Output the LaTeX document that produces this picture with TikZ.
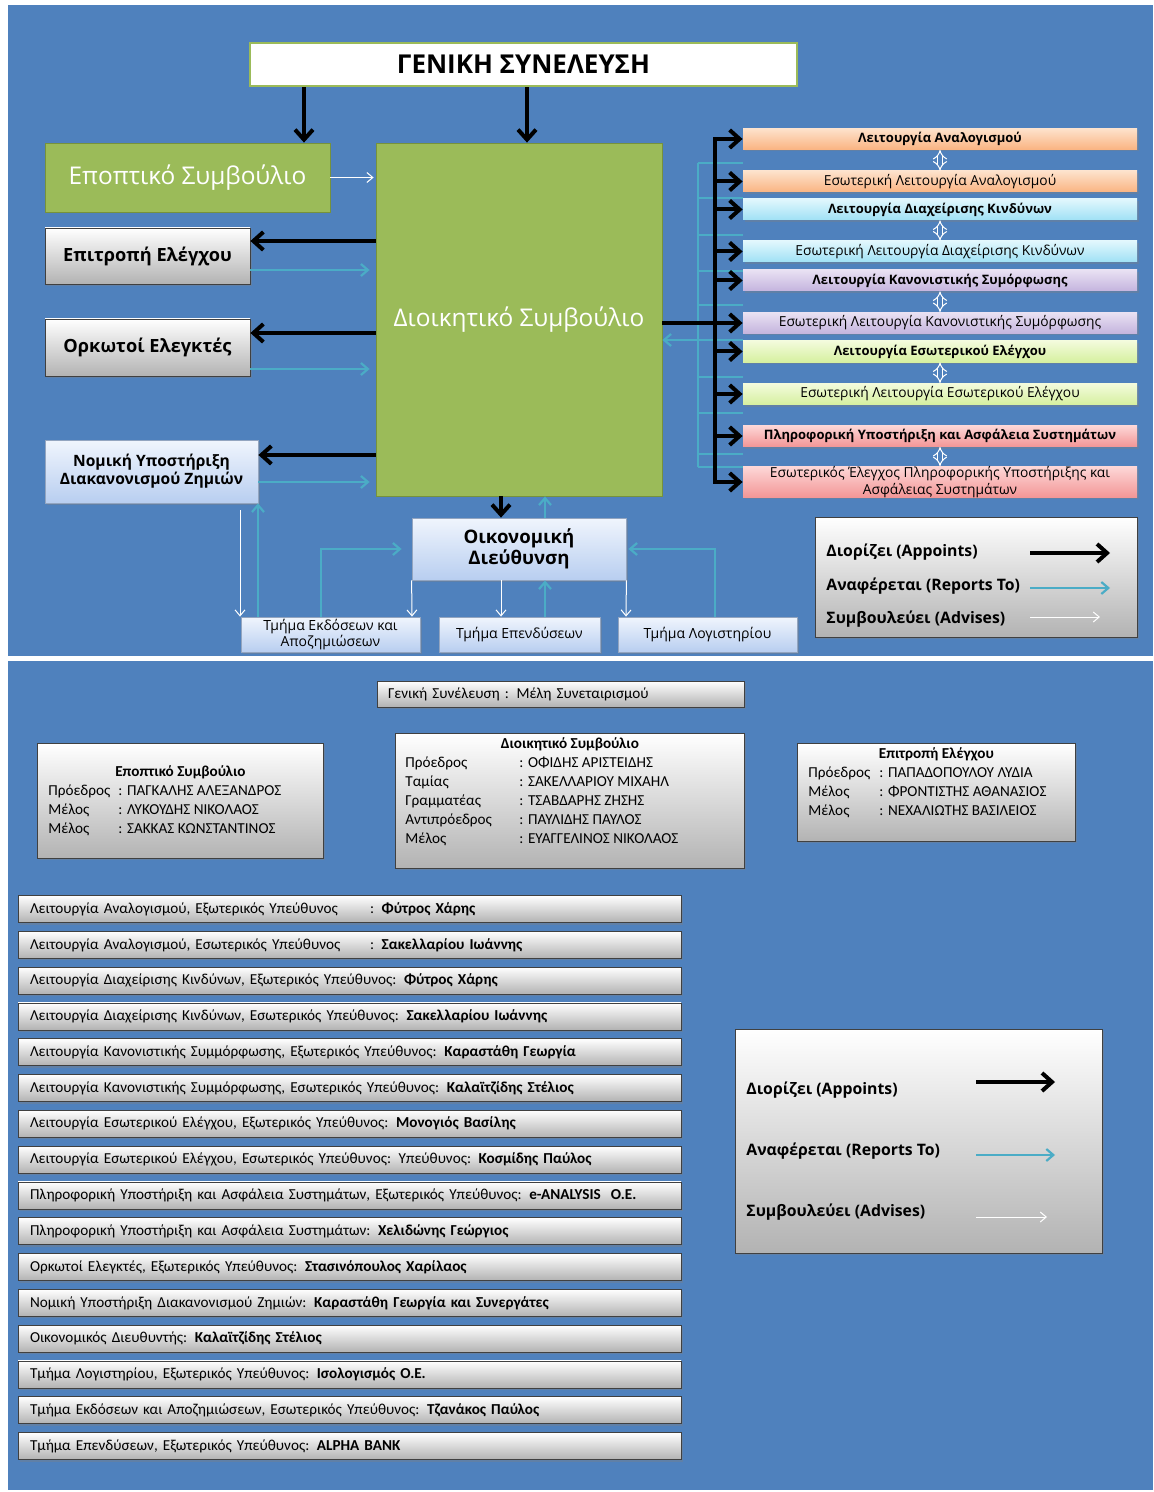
\documentclass[tikz,border=0pt]{standalone}
\usepackage{fontspec}
\setmainfont{Open Sans}
\newfontfamily\calib{Carlito}
\usetikzlibrary{arrows.meta,shadows}

\definecolor{panelblue}{RGB}{79,129,189}
\definecolor{boardgreen}{RGB}{155,187,89}
\definecolor{greenedge}{RGB}{118,146,60}
\definecolor{reportteal}{RGB}{75,172,198}
\definecolor{paleblueA}{RGB}{240,245,253}
\definecolor{paleblueB}{RGB}{184,206,240}
\definecolor{peachA}{RGB}{253,226,204}
\definecolor{peachB}{RGB}{250,180,130}
\definecolor{cyanA}{RGB}{225,247,253}
\definecolor{cyanB}{RGB}{160,225,245}
\definecolor{lilacA}{RGB}{233,225,243}
\definecolor{lilacB}{RGB}{196,180,222}
\definecolor{limeA}{RGB}{243,251,220}
\definecolor{limeB}{RGB}{214,240,160}
\definecolor{roseA}{RGB}{253,215,215}
\definecolor{roseB}{RGB}{243,150,150}

\tikzset{
  appoint/.style={line width=2pt,-{Straight Barb[length=5pt,width=9pt]}},
  reportline/.style={draw=reportteal,line width=1.1pt},
  report/.style={reportline,-{Straight Barb[length=3.5pt,width=6pt]}},
  advise/.style={draw=white,line width=0.5pt,-{Straight Barb[length=3pt,width=5pt]}},
  pairlink/.style={draw=white,line width=0.5pt,double=panelblue,double distance=2pt,{Implies}-{Implies}},
  boxshadow/.style={drop shadow={shadow xshift=1pt,shadow yshift=-1pt,opacity=.35}},
  graybox/.style={boxshadow,draw=black!75,top color=white,bottom color=black!30,inner sep=0pt},
  bluebox/.style={boxshadow,draw=paleblueB!80!black,top color=paleblueA,bottom color=paleblueB,inner sep=0pt,align=center},
  greenbox/.style={draw=greenedge,fill=boardgreen,text=white,inner sep=0pt,font=\fontsize{12.2}{14}\selectfont},
  funcbox/.style={boxshadow,minimum width=197pt,minimum height=10.5pt,inner sep=0pt,align=center,font=\fontsize{6.9}{7}\selectfont},
  keytext/.style={anchor=west,inner sep=0pt,font=\bfseries\fontsize{7.9}{9}\selectfont},
  rowbox/.style={graybox,minimum width=331.5pt,minimum height=13.5pt,text width=319.5pt,inner xsep=6pt,align=left,font=\calib\fontsize{7.6}{9}\selectfont},
  infotext/.style={anchor=north west,inner sep=0pt,font=\calib\fontsize{7.6}{9.5}\selectfont}
}

\begin{document}
\begin{tikzpicture}[x=0.5pt,y=-0.5pt]
\useasboundingbox (0,0) rectangle (1153,1492) ;
\fill[white] (0,0) rectangle (1153,1492) ;
\fill[panelblue] (8,5) rectangle (1153,656) ;
\fill[panelblue] (8,661) rectangle (1153,1490) ;

% organisation chart
\node[draw=boardgreen,line width=1.2pt,fill=white,minimum width=273.5pt,minimum height=21.5pt,font=\bfseries\fontsize{13}{14}\selectfont] (gs) at (523.5,64.5) {ΓΕΝΙΚΗ ΣΥΝΕΛΕΥΣΗ} ;
\node[greenbox,minimum width=142.5pt,minimum height=34.5pt] (epopt) at (187.5,177.5) {Εποπτικό Συμβούλιο} ;
\node[greenbox,minimum width=143pt,minimum height=176.5pt] (dioik) at (519,319.5) {Διοικητικό Συμβούλιο} ;
\node[graybox,minimum width=102.5pt,minimum height=28pt,font=\bfseries\fontsize{9.1}{10}\selectfont] (epitr) at (147.5,256) {Επιτροπή Ελέγχου} ;
\node[graybox,minimum width=102.5pt,minimum height=28.5pt,font=\bfseries\fontsize{9.1}{10}\selectfont] (orkot) at (147.5,347.5) {Ορκωτοί Ελεγκτές} ;
\node[bluebox,minimum width=106.5pt,minimum height=31.5pt,font=\bfseries\fontsize{7.8}{9}\selectfont] (nomiki) at (151.5,471.5) {Νομική Υποστήριξη\\Διακανονισμού Ζημιών} ;
\node[bluebox,minimum width=107pt,minimum height=31pt,font=\bfseries\fontsize{9.3}{10.5}\selectfont] (oikon) at (519,549) {Οικονομική\\Διεύθυνση} ;
\node[bluebox,minimum width=89.5pt,minimum height=17.5pt,font=\fontsize{7}{7}\selectfont] (ekdos) at (330.5,634.5) {Τμήμα Εκδόσεων και\\Αποζημιώσεων} ;
\node[bluebox,minimum width=80.5pt,minimum height=17.5pt,font=\fontsize{7}{7}\selectfont] (epend) at (519.5,634.5) {Τμήμα Επενδύσεων} ;
\node[bluebox,minimum width=89.5pt,minimum height=17.5pt,font=\fontsize{7}{7}\selectfont] (logist) at (707.5,634.5) {Τμήμα Λογιστηρίου} ;

\foreach \fa/\fb/\ya/\yb/\col/\txa/\txb in {
  f1/f2/139/181.5/peach/{Λειτουργία Αναλογισμού}/{Εσωτερική Λειτουργία Αναλογισμού},
  f3/f4/209.5/251.5/cyan/{Λειτουργία Διαχείρισης Κινδύνων}/{Εσωτερική Λειτουργία Διαχείρισης Κινδύνων},
  f5/f6/280.5/323/lilac/{Λειτουργία Κανονιστικής Συμόρφωσης}/{Εσωτερική Λειτουργία Κανονιστικής Συμόρφωσης},
  f7/f8/351.5/394/lime/{Λειτουργία Εσωτερικού Ελέγχου}/{Εσωτερική Λειτουργία Εσωτερικού Ελέγχου},
  f9/f10/436/482/rose/{Πληροφορική Υποστήριξη και Ασφάλεια Συστημάτων}/{Εσωτερικός Έλεγχος Πληροφορικής Υποστήριξης και\\Ασφάλειας Συστημάτων}}
{
  \node[funcbox,top color=\col A,bottom color=\col B] (\fa) at (940,\ya) {\bfseries\fontsize{6.5}{7}\selectfont\txa} ;
  \node[funcbox,top color=\col A,bottom color=\col B] (\fb) at (940,\yb) {\txb} ;
  \draw[pairlink] (\fa.south) -- (\fb.north) ;
}

% appoints
\draw[appoint] (304,0 |- gs.south) -- (304,0 |- epopt.north) ;
\draw[appoint] (527,0 |- gs.south) -- (527,0 |- dioik.north) ;
\draw[appoint] (dioik.west |- 0,241) -- (epitr.east |- 0,241) ;
\draw[appoint] (dioik.west |- 0,333) -- (orkot.east |- 0,333) ;
\draw[appoint] (dioik.west |- 0,455) -- (nomiki.east |- 0,455) ;
\draw[appoint] (501,0 |- dioik.south) -- (501,0 |- oikon.north) ;

% reports
\draw[report,shorten >=3pt] (epitr.east |- 0,270) -- (dioik.west |- 0,270) ;
\draw[report,shorten >=3pt] (orkot.east |- 0,369) -- (dioik.west |- 0,369) ;
\draw[report,shorten >=3pt] (nomiki.east |- 0,482) -- (dioik.west |- 0,482) ;
\draw[report] (545,0 |- oikon.north) -- (545,0 |- dioik.south) ;
\draw[report] (258,0 |- ekdos.north) -- (258,0 |- nomiki.south) ;
\draw[report,shorten >=5pt] (321,0 |- ekdos.north) |- (oikon.west) ;
\draw[report] (545,0 |- epend.north) -- (545,0 |- oikon.south) ;
\draw[report,shorten >=1pt] (715,0 |- logist.north) |- (oikon.east) ;

% advises
\draw[advise,shorten >=1pt] (epopt.east) -- (dioik.west |- epopt.east) ;
\draw[advise,shorten <=3.5pt] (240,0 |- nomiki.south) -- (240,0 |- ekdos.north) ;
\draw[advise] (oikon.south west) -- (412,0 |- ekdos.north) ;
\draw[advise] (501,0 |- oikon.south) -- (501,0 |- epend.north) ;
\draw[advise] (oikon.south east) -- (626,0 |- logist.north) ;

% functions: report bus and appoint bus
\coordinate (tbtop) at (698,163) ;
\coordinate (tbbot) at (698,467) ;
\draw[reportline] (tbtop) -- (tbbot) ;
\foreach \y in {163,198,235,271,305,340,377,413,454,467}
  \draw[reportline] (tbtop |- 0,\y) -- (f1.west |- 0,\y) ;
\draw[report] (tbtop |- 0,340) -- (dioik.east |- 0,340) ;
\coordinate (bus) at (715,323) ;
\draw[appoint] (bus) |- (f1.west) ;
\draw[appoint] (bus) |- (f10.west) ;
\foreach \f in {f2,f3,f4,f5,f7,f8,f9}
  \draw[appoint] (bus |- \f.west) -- (\f.west) ;
\draw[appoint] (dioik.east |- f6.west) -- (f6.west) ;

% key
\node[graybox,minimum width=161pt,minimum height=60pt] (key) at (976,577) {} ;
\node[keytext] (kapp) at (826,552) {Διορίζει (Appoints)} ;
\node[keytext] (krep) at (826,586) {Αναφέρεται (Reports To)} ;
\node[keytext] (kadv) at (826,619) {Συμβουλεύει (Advises)} ;
\coordinate (ka) at (1030,553) ;
\coordinate (kr) at (1030,588) ;
\coordinate (kv) at (1030,617) ;
\draw[appoint] (ka) -- ++(80,0) ;
\draw[report] (kr) -- ++(80,0) ;
\draw[advise] (kv) -- ++(70,0) ;

% members
\node[graybox,minimum width=183.5pt,minimum height=13pt,text width=172.5pt,inner xsep=5.5pt,align=left,font=\calib\fontsize{7.6}{9}\selectfont] (gsinfo) at (560.5,694) {Γενική Συνέλευση : Μέλη Συνεταιρισμού} ;

\node[graybox,minimum width=143pt,minimum height=57.5pt,anchor=north west] (epoptinfo) at (37,743) {} ;
\node[infotext] (epopttext) at (48,762.5) {\begin{tabular}{@{}p{35pt}@{}l@{}}
  \multicolumn{2}{@{}l@{}}{\makebox[132pt]{\bfseries Εποπτικό Συμβούλιο}}\\
  Πρόεδρος & : ΠΑΓΚΑΛΗΣ ΑΛΕΞΑΝΔΡΟΣ\\
  Μέλος & : ΛΥΚΟΥΔΗΣ ΝΙΚΟΛΑΟΣ\\
  Μέλος & : ΣΑΚΚΑΣ ΚΩΝΣΤΑΝΤΙΝΟΣ
\end{tabular}} ;

\node[graybox,minimum width=174.5pt,minimum height=67.5pt,anchor=north west] (dioikinfo) at (395,733) {} ;
\node[infotext] (dioiktext) at (405,734.5) {\begin{tabular}{@{}p{57pt}@{}l@{}}
  \multicolumn{2}{@{}l@{}}{\makebox[164.5pt]{\bfseries Διοικητικό Συμβούλιο}}\\
  Πρόεδρος & : ΟΦΙΔΗΣ ΑΡΙΣΤΕΙΔΗΣ\\
  Ταμίας & : ΣΑΚΕΛΛΑΡΙΟΥ ΜΙΧΑΗΛ\\
  Γραμματέας & : ΤΣΑΒΔΑΡΗΣ ΖΗΣΗΣ\\
  Αντιπρόεδρος & : ΠΑΥΛΙΔΗΣ ΠΑΥΛΟΣ\\
  Μέλος & : ΕΥΑΓΓΕΛΙΝΟΣ ΝΙΚΟΛΑΟΣ
\end{tabular}} ;

\node[graybox,minimum width=139pt,minimum height=49pt,anchor=north west] (epitrinfo) at (797,743) {} ;
\node[infotext] (epitrtext) at (808,744.5) {\begin{tabular}{@{}p{35.5pt}@{}l@{}}
  \multicolumn{2}{@{}l@{}}{\makebox[128pt]{\bfseries Επιτροπή Ελέγχου}}\\
  Πρόεδρος & : ΠΑΠΑΔΟΠΟΥΛΟΥ ΛΥΔΙΑ\\
  Μέλος & : ΦΡΟΝΤΙΣΤΗΣ ΑΘΑΝΑΣΙΟΣ\\
  Μέλος & : ΝΕΧΑΛΙΩΤΗΣ ΒΑΣΙΛΕΙΟΣ
\end{tabular}} ;

\foreach \pre/\nm [count=\i from 0] in {
  {\makebox[170pt][l]{Λειτουργία Αναλογισμού, Εξωτερικός Υπεύθυνος}}/{Φύτρος Χάρης},
  {\makebox[170pt][l]{Λειτουργία Αναλογισμού, Εσωτερικός Υπεύθυνος}}/{Σακελλαρίου Ιωάννης},
  {Λειτουργία Διαχείρισης Κινδύνων, Εξωτερικός Υπεύθυνος}/{Φύτρος Χάρης},
  {Λειτουργία Διαχείρισης Κινδύνων, Εσωτερικός Υπεύθυνος}/{Σακελλαρίου Ιωάννης},
  {Λειτουργία Κανονιστικής Συμμόρφωσης, Εξωτερικός Υπεύθυνος}/{Καραστάθη Γεωργία},
  {Λειτουργία Κανονιστικής Συμμόρφωσης, Εσωτερικός Υπεύθυνος}/{Καλαϊτζίδης Στέλιος},
  {Λειτουργία Εσωτερικού Ελέγχου, Εξωτερικός Υπεύθυνος}/{Μονογιός Βασίλης},
  {Λειτουργία Εσωτερικού Ελέγχου, Εσωτερικός Υπεύθυνος: Υπεύθυνος}/{Κοσμίδης Παύλος},
  {Πληροφορική Υποστήριξη και Ασφάλεια Συστημάτων, Εξωτερικός Υπεύθυνος}/{e-ANALYSIS\ \ Ο.Ε.},
  {Πληροφορική Υποστήριξη και Ασφάλεια Συστημάτων}/{Χελιδώνης Γεώργιος},
  {Ορκωτοί Ελεγκτές, Εξωτερικός Υπεύθυνος}/{Στασινόπουλος Χαρίλαος},
  {Νομική Υποστήριξη Διακανονισμού Ζημιών}/{Καραστάθη Γεωργία και Συνεργάτες},
  {Οικονομικός Διευθυντής}/{Καλαϊτζίδης Στέλιος},
  {Τμήμα Λογιστηρίου, Εξωτερικός Υπεύθυνος}/{Ισολογισμός Ο.Ε.},
  {Τμήμα Εκδόσεων και Αποζημιώσεων, Εσωτερικός Υπεύθυνος}/{Τζανάκος Παύλος},
  {Τμήμα Επενδύσεων, Εξωτερικός Υπεύθυνος}/{ALPHA BANK}}
  \node[rowbox] (row\i) at (349.5,{909+35.8*\i}) {\pre: \textbf{\nm}} ;

% key again
\node[graybox,minimum width=183.5pt,minimum height=112pt] (keytwo) at (918.5,1141) {} ;
\node[keytext] (k2app) at (746,1090) {Διορίζει (Appoints)} ;
\node[keytext] (k2rep) at (746,1151) {Αναφέρεται (Reports To)} ;
\node[keytext] (k2adv) at (746,1212) {Συμβουλεύει (Advises)} ;
\coordinate (k2a) at (976,1082) ;
\coordinate (k2r) at (976,1155) ;
\coordinate (k2v) at (976,1217) ;
\draw[appoint] (k2a) -- ++(79,0) ;
\draw[report] (k2r) -- ++(79,0) ;
\draw[advise] (k2v) -- ++(71,0) ;
\end{tikzpicture}
\end{document}
